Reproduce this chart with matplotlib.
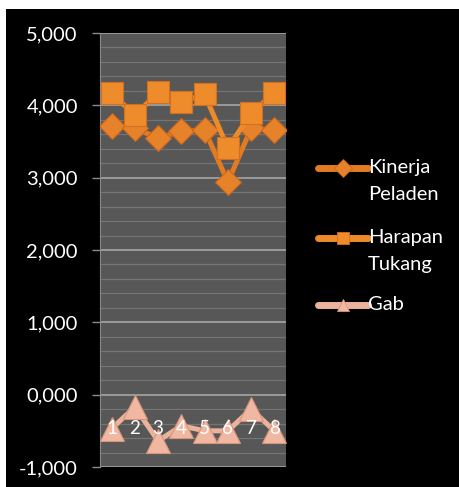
import numpy as np
import matplotlib.pyplot as plt
from matplotlib.patches import Rectangle
from matplotlib.lines import Line2D
from matplotlib.ticker import FuncFormatter

# Data
kategori = ['1', '2', '3', '4', '5', '6', '7', '8']
kinerja_peladen = [3.72, 3.68, 3.55, 3.64, 3.66, 2.94, 3.68, 3.66]
harapan_tukang = [4.17, 3.86, 4.18, 4.05, 4.15, 3.41, 3.89, 4.17]
gab = [-0.47, -0.17, -0.64, -0.43, -0.50, -0.50, -0.20, -0.50]

nama_seri = ['Kinerja\nPeladen', 'Harapan\nTukang', 'Gab']

plt.rcParams['font.family'] = ['Lato', 'DejaVu Sans']

W, H = 460, 487
fig = plt.figure(figsize=(W / 100, H / 100), dpi=100)
fig.patch.set_facecolor('white')
# black chart area, leaving the thin white edge at top/left
fig.patches.append(Rectangle((6 / W, 0), 1, 1 - 9 / H, transform=fig.transFigure,
                             facecolor='black', edgecolor='none', zorder=-10))

ax = fig.add_axes([100 / W, 1 - 467 / H, 186 / W, 434 / H])
ax.set_facecolor('#575757')

x = np.arange(len(kategori))
gaya = [
    dict(color='#E27B22', marker='D', markersize=13.5, markerfacecolor='#E6822A',
         markeredgecolor='#C9661A'),
    dict(color='#EE8A28', marker='s', markersize=16, markerfacecolor='#EE8C2C',
         markeredgecolor='#D27020'),
    dict(color='#EDB29A', marker='^', markersize=17, markerfacecolor='#F0B8A2',
         markeredgecolor='#D8957C'),
]
for seri, g, z in zip([kinerja_peladen, harapan_tukang, gab], gaya, [3, 4, 3]):
    ax.plot(x, seri, lw=3.6, markeredgewidth=0.8, zorder=z, **g)

ax.set_xlim(-0.5, len(kategori) - 0.5)
ax.set_ylim(-1, 5)

# gridlines
ax.set_yticks(np.arange(-1, 5.01, 1))
ax.set_yticks(np.arange(-1, 5.01, 0.2), minor=True)
ax.grid(axis='y', which='major', color='#9a9a9a', lw=1.4, zorder=1)
ax.grid(axis='y', which='minor', color='#747474', lw=0.9, zorder=1)
ax.set_axisbelow(True)
ax.yaxis.set_major_formatter(FuncFormatter(lambda v, p: f'{v:.3f}'.replace('.', ',')))
ax.tick_params(axis='y', which='major', colors='#8a8a8a', labelcolor='white',
               labelsize=14.5, length=6, width=1, pad=10)
ax.tick_params(axis='y', which='minor', length=0)

# category axis crosses at 0, labels drawn over the markers
ax.spines['bottom'].set_position(('data', 0))
ax.spines['bottom'].set_visible(False)
ax.set_xticks(x)
ax.set_xticklabels(kategori)
ax.tick_params(axis='x', length=0, labelcolor='white', labelsize=13.5, pad=18)
ax.xaxis.set_zorder(6)

ax.spines['top'].set_visible(False)
ax.spines['right'].set_visible(False)
ax.spines['left'].set_color('#8a8a8a')

# legend, handle level with the first line of each label
leg_y = [168, 238, 305]
for nama, g, py in zip(nama_seri, gaya, leg_y):
    fy = 1 - py / H
    fig.add_artist(Line2D([318 / W, 343 / W, 368 / W], [fy, fy, fy],
                          transform=fig.transFigure, lw=5, solid_capstyle='round',
                          color=g['color'], marker=g['marker'], markevery=[1],
                          markersize=9, markerfacecolor=g['markerfacecolor'],
                          markeredgecolor=g['markeredgecolor'], markeredgewidth=0.6))
    fig.text(368 / W, fy + 9 / H, nama, color='white', fontsize=14.5, ha='left',
             va='top', linespacing=1.7)

fig.savefig('out.png', dpi=100, facecolor=fig.get_facecolor())
